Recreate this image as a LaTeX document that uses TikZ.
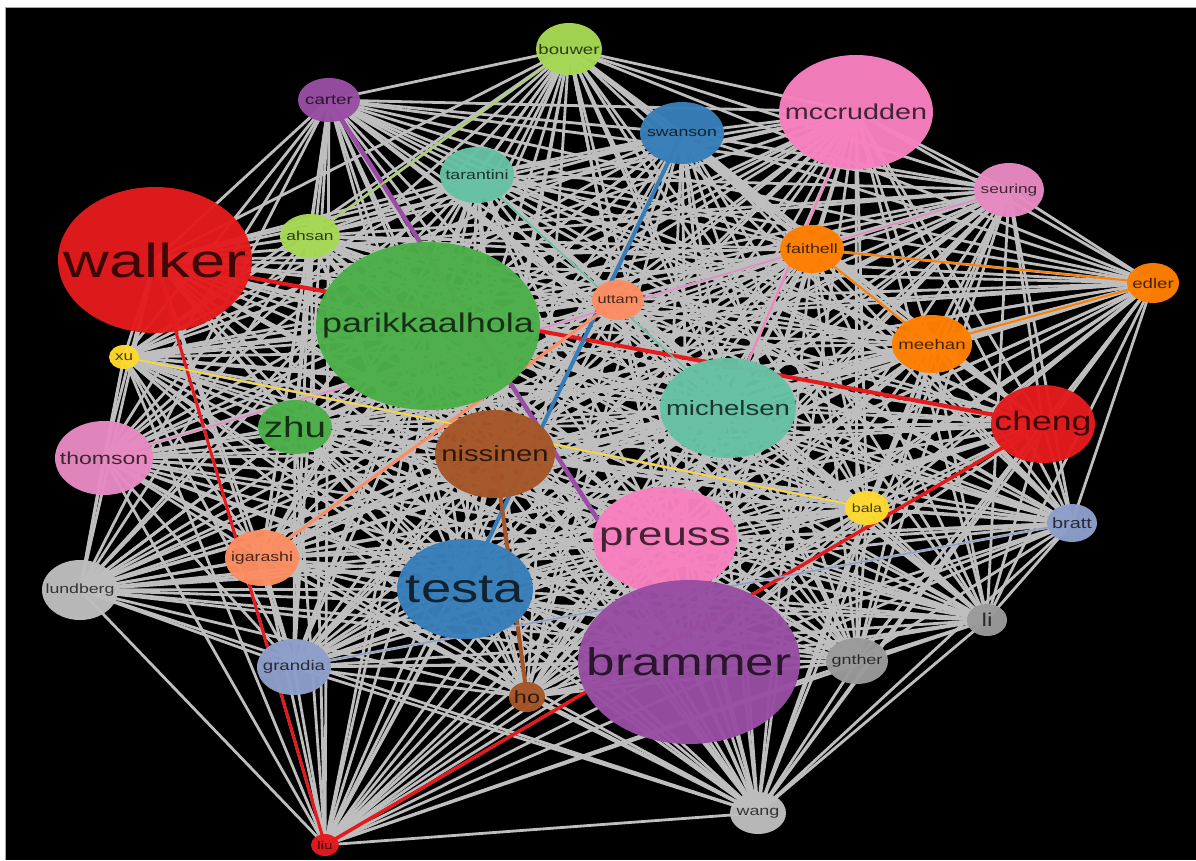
\documentclass[tikz,border=0pt]{standalone}
\usepackage{fontspec}
\setmainfont{Liberation Sans}
\usetikzlibrary{shapes.geometric}
\pgfdeclarelayer{bg}
\pgfdeclarelayer{edges}
\pgfsetlayers{bg,edges,main}
\definecolor{cRed}{HTML}{E41A1C}
\definecolor{cBlue}{HTML}{377EB8}
\definecolor{cGreen}{HTML}{4DAF4A}
\definecolor{cPurple}{HTML}{984EA3}
\definecolor{cOrange}{HTML}{FF7F00}
\definecolor{cBrown}{HTML}{A65628}
\definecolor{cPink}{HTML}{F781BF}
\definecolor{cTeal}{HTML}{66C2A5}
\definecolor{cSalmon}{HTML}{FC8D62}
\definecolor{cPeri}{HTML}{8DA0CB}
\definecolor{cPinkB}{HTML}{E78AC3}
\definecolor{cLime}{HTML}{A6D854}
\definecolor{cYellow}{HTML}{FFD92F}
\definecolor{cLGray}{HTML}{BDBDBD}
\definecolor{cDGray}{HTML}{9A9A9A}
\definecolor{cEdge}{HTML}{BEBEBE}
\tikzset{
  blob/.style={ellipse, draw=none, fill opacity=0.97, inner sep=0pt, outer sep=0pt},
  lbl/.style={inner sep=0pt, text=black, text opacity=0.72},
  gedge/.style={draw=cEdge, line width=2.8pt},
  cedge/.style={line width=#1},
}
\newcommand\nd[7]{%
  \node[blob, fill=#6, minimum width={2*#4pt}, minimum height={2*#5pt}] (#1) at (#2,#3) {};
  \node[lbl, font=\fontsize{#7}{#7}\selectfont] (#1-t) at (#1.center) {\scalebox{1.33}[1]{#1}};
}
\begin{document}
\begin{tikzpicture}[x=1pt,y=-1pt]
\useasboundingbox (0,0) rectangle (1196,860);
\begin{pgfonlayer}{bg}
\fill[white] (0,0) rectangle (1196,860);
\fill[black] (5,7) rectangle (1196,860);
\draw[black!35, line width=1pt] (5,860) -- (5,7) -- (1196,7);
\end{pgfonlayer}
% nodes
\nd{bouwer}{569}{49}{33}{26}{cLime}{14}
\nd{carter}{329}{100}{31}{22}{cPurple}{14}
\nd{mccrudden}{856}{112}{77}{57}{cPink}{21.6}
\nd{swanson}{682}{133}{42}{31}{cBlue}{13.3}
\nd{tarantini}{477}{175}{37}{28}{cTeal}{13.3}
\nd{seuring}{1009}{190}{35}{27}{cPinkB}{13}
\nd{ahsan}{310}{236}{30}{22}{cLime}{13}
\nd{walker}{155}{260}{97}{73}{cRed}{47.6}
\nd{faithell}{812}{249}{32}{24}{cOrange}{13.5}
\nd{edler}{1153}{283}{26}{20}{cOrange}{14}
\nd{uttam}{618}{300}{26}{20}{cSalmon}{12.3}
\nd{parikkaalhola}{428}{326}{112}{84}{cGreen}{27}
\nd{meehan}{932}{344}{40}{29}{cOrange}{14}
\nd{xu}{124}{357}{15}{12}{cYellow}{12.8}
\nd{michelsen}{728}{408}{68}{50}{cTeal}{20.7}
\nd{cheng}{1043}{424}{52}{39}{cRed}{26.8}
\nd{zhu}{295}{427}{37}{27}{cGreen}{29}
\nd{thomson}{104}{458}{49}{37}{cPinkB}{17.3}
\nd{nissinen}{495}{454}{60}{44}{cBrown}{22}
\nd{bala}{867}{508}{22}{17}{cYellow}{12}
\nd{bratt}{1072}{523}{25}{19}{cPeri}{15}
\nd{preuss}{665}{540}{72}{53}{cPink}{33}
\nd{igarashi}{262}{558}{37}{28}{cSalmon}{13.3}
\nd{lundberg}{80}{590}{38}{30}{cLGray}{13.3}
\nd{testa}{465}{589}{68}{50}{cBlue}{41}
\nd{brammer}{689}{662}{111}{82}{cPurple}{38.5}
\nd{li}{987}{620}{20}{16}{cDGray}{18.6}
\nd{grandia}{294}{667}{37}{28}{cPeri}{14}
\nd{gnther}{857}{661}{31}{23}{cDGray}{13.5}
\nd{ho}{527}{697}{18}{15}{cBrown}{17.6}
\nd{wang}{758}{813}{28}{21}{cLGray}{13.5}
\nd{liu}{325}{845}{14}{11}{cRed}{11.3}
\def\allnames{bouwer,carter,mccrudden,swanson,tarantini,seuring,ahsan,walker,faithell,edler,uttam,parikkaalhola,meehan,xu,michelsen,cheng,zhu,thomson,nissinen,bala,bratt,preuss,igarashi,lundberg,testa,brammer,li,grandia,gnther,ho,wang,liu}
\begin{pgfonlayer}{edges}
\foreach \a [count=\i] in \allnames {
  \foreach \b [count=\j] in \allnames {
    \ifnum\j>\i \draw[gedge] (\a.center) -- (\b.center);\fi
  }
}
% coloured edges
\draw[cedge=4pt, draw=cRed] (walker.center) -- (cheng.center);
\draw[cedge=3pt, draw=cRed] (walker.center) -- (liu.center);
\draw[cedge=3.5pt, draw=cRed] (liu.center) -- (cheng.center);
\draw[cedge=4.5pt, draw=cPurple] (carter.center) -- (brammer.center);
\draw[cedge=1.5pt, draw=cLime] (bouwer.center) -- (ahsan.center);
\draw[cedge=4pt, draw=cBlue] (swanson.center) -- (testa.center);
\draw[cedge=4pt, draw=cBrown] (nissinen.center) -- (ho.center);
\draw[cedge=3pt, draw=cSalmon] (igarashi.center) -- (uttam.center);
\draw[cedge=1.5pt, draw=cTeal] (tarantini.center) -- (michelsen.center);
\draw[cedge=2pt, draw=cPink] (mccrudden.center) -- (michelsen.center);
\draw[cedge=1.5pt, draw=cPinkB] (seuring.center) -- (thomson.center);
\draw[cedge=1.5pt, draw=cYellow] (xu.center) -- (bala.center);
\draw[cedge=2pt, draw=cOrange] (faithell.center) -- (edler.center);
\draw[cedge=2pt, draw=cOrange] (faithell.center) -- (meehan.center);
\draw[cedge=2pt, draw=cOrange] (meehan.center) -- (edler.center);
\draw[cedge=1.5pt, draw=cPeri] (grandia.center) -- (bratt.center);
\end{pgfonlayer}
\end{tikzpicture}
\end{document}
